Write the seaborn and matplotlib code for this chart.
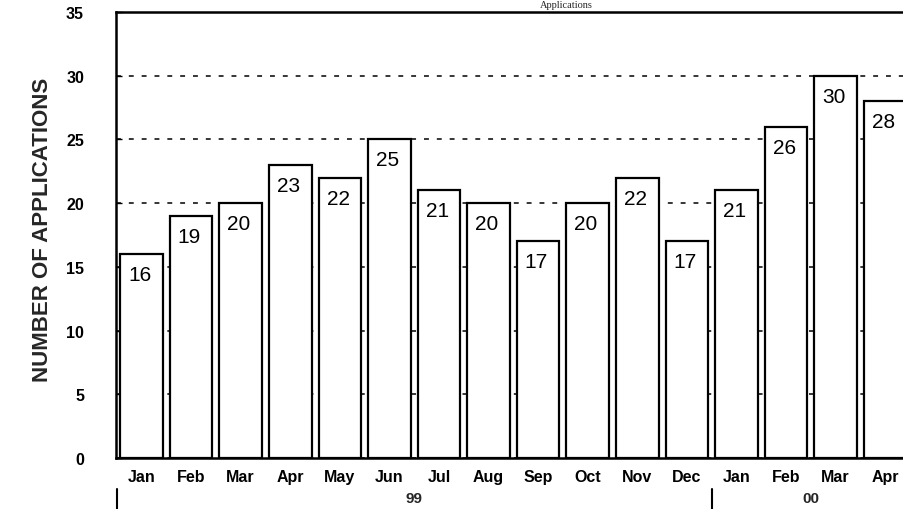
import pandas as pd
import seaborn as sns
import matplotlib.pyplot as plt
import matplotlib.transforms as mtransforms

# データ
months = ["Jan", "Feb", "Mar", "Apr", "May", "Jun", "Jul", "Aug", "Sep", "Oct",
          "Nov", "Dec", "Jan", "Feb", "Mar", "Apr"]
years = ["99"] * 12 + ["00"] * 4
applications = [16, 19, 20, 23, 22, 25, 21, 20, 17, 20, 22, 17, 21, 26, 30, 28]
yticks = [0, 5, 10, 15, 20, 25, 30, 35]

df = pd.DataFrame({"month": months, "year": years, "count": applications})
df["key"] = df["month"] + " " + df["year"]

sns.set_theme(style="white")
plt.rcParams["font.family"] = ["Liberation Sans", "DejaVu Sans"]

fig = plt.figure(figsize=(9.04, 5.10), dpi=100)
# 右端は画像の外にはみ出す（元画像が切れているため）
ax = fig.add_axes([116 / 904, 51 / 510, 799 / 904, 446 / 510])

bar_w = 0.86
sns.barplot(
    data=df, x="key", y="count", order=list(df["key"]),
    color="white", saturation=1, edgecolor="black", linewidth=1.6,
    width=bar_w, ax=ax, zorder=3,
)

ax.set_xlim(-0.514, len(df) - 0.4)
ax.set_ylim(0, 35)
ax.set_yticks(yticks)
ax.set_yticklabels([str(t) for t in yticks], fontsize=11.5, fontweight="bold")
ax.set_xticks(range(len(df)))
ax.set_xticklabels(months, fontsize=11.5, fontweight="bold")
ax.tick_params(axis="y", direction="in", length=4, width=1, pad=23, left=True, colors="black")
ax.tick_params(axis="x", length=0, pad=8, colors="black")
ax.set_xlabel("")
ax.set_ylabel("")

ax.yaxis.grid(True, linestyle=(0, (3.2, 5.2)), color="black", linewidth=1.1)
ax.set_axisbelow(True)
for s in ax.spines.values():
    s.set_color("black")
    s.set_linewidth(1.8)

# 値ラベル（棒の内側・左上）
for i, v in enumerate(df["count"]):
    ax.annotate(str(v), xy=(i - bar_w / 2, v), xytext=(8, -11),
                textcoords="offset pixels", ha="left", va="top",
                fontsize=15, color="black", zorder=4)

# 年のラベルと区切り線
trans = mtransforms.blended_transform_factory(ax.transData, ax.transAxes)
for yr in ["99", "00"]:
    idx = df.index[df["year"] == yr]
    ax.text(idx.to_series().mean(), -0.09, yr, transform=trans, ha="center",
            va="center", fontsize=11, fontweight="bold")
for xb in [-0.5, 11.5]:
    ax.plot([xb, xb], [-0.07, -0.13], transform=trans, color="black",
            linewidth=1.5, clip_on=False)

fig.text(43 / 904, 1 - 230 / 510, "NUMBER OF APPLICATIONS", rotation=90,
         ha="center", va="center", fontsize=16, fontweight="bold")

# タイトル（元画像では上端で切れている → 枠の上の余白に収める）
fig.text(566 / 904, 1 - 1 / 510, "Applications", ha="center", va="top",
         fontsize=7.5, family=["Liberation Serif", "DejaVu Serif"])

fig.savefig("out.png", dpi=100, facecolor="white")
